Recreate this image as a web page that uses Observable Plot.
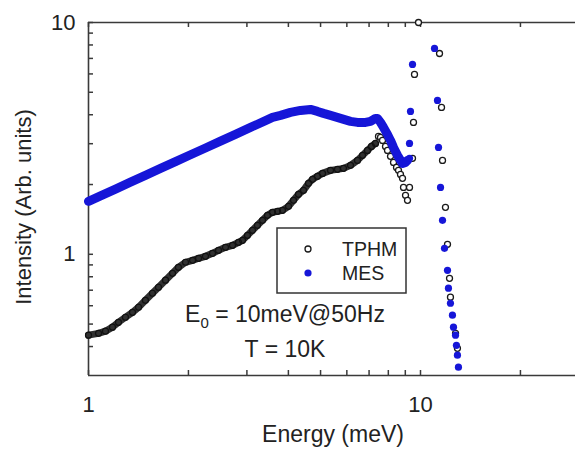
<!DOCTYPE html>
<html>
<head>
<meta charset="utf-8">
<script src="https://cdn.jsdelivr.net/npm/d3@7"></script>
<script src="https://cdn.jsdelivr.net/npm/@observablehq/plot@0.6"></script>
<style>
  html, body { margin: 0; padding: 0; background: #fff; }
  #chart svg { display: block; }
</style>
</head>
<body>
<div id="chart"></div>
<script>
// ---- Data (energy in meV, intensity in arbitrary units) ----
// TPHM: dense band of open circles
const tphmBandE = [1.000,1.072,1.125,1.181,1.231,1.292,1.357,1.415,1.484,1.558,1.625,1.706,1.791,1.866,1.960,2.058,2.145,2.251,2.363,2.464,2.586,2.715,2.830,2.910,3.012,3.119,3.228,3.343,3.461,3.583,3.710,3.839,4.004,4.145,4.291,4.442,4.599,4.728,4.895,5.068,5.357,5.623,5.862,6.154,6.460,6.688,6.924,7.118,7.318];
const tphmBandI = [0.448,0.456,0.466,0.485,0.509,0.535,0.562,0.591,0.633,0.679,0.721,0.773,0.828,0.879,0.924,0.942,0.961,0.980,1.010,1.040,1.072,1.093,1.126,1.149,1.207,1.269,1.334,1.402,1.473,1.517,1.532,1.547,1.610,1.709,1.814,1.887,2.023,2.105,2.169,2.234,2.302,2.325,2.348,2.419,2.542,2.672,2.807,2.921,3.009];
// TPHM: separate circles (peak, drop and elastic line)
const tphmDotE = [7.472,7.577,7.683,7.845,7.955,8.122,8.293,8.467,8.585,8.705,8.827,8.888,9.013,9.138,9.266,9.461,9.526,9.592,9.862,11.41,11.57,11.65,11.89,12.06,12.23,12.31,12.75,12.92];
const tphmDotI = [3.226,3.194,3.100,2.921,2.807,2.646,2.492,2.371,2.302,2.212,2.126,1.944,1.796,1.709,1.944,2.594,3.707,5.970,10.0,7.350,4.301,2.542,1.594,1.104,0.788,0.653,0.456,0.393];

// MES: dense band of filled dots
const mesBandE = [1.000,1.087,1.206,1.338,1.484,1.648,1.828,2.029,2.251,2.498,2.771,3.076,3.413,3.583,3.788,4.059,4.350,4.663,4.895,5.104,5.357,5.741,6.154,6.460,6.830,7.069,7.318,7.420,7.577,7.738,7.955,8.122,8.293,8.525,8.705,8.827,9.013,9.138];
const mesBandI = [1.692,1.787,1.912,2.048,2.191,2.346,2.509,2.688,2.875,3.079,3.294,3.527,3.773,3.895,3.973,4.094,4.176,4.217,4.135,4.054,3.973,3.857,3.744,3.707,3.707,3.744,3.857,3.857,3.707,3.527,3.290,3.100,2.892,2.672,2.542,2.467,2.492,2.542];
// MES: separate dots (elastic line)
const mesDotE = [9.266,9.266,9.330,9.461,11.02,11.25,11.33,11.49,11.65,11.81,12.06,12.14,12.31,12.48,12.57,12.75,12.83,12.92,13.01];
const mesDotI = [2.594,3.009,4.135,6.592,7.727,4.611,2.892,1.944,1.402,1.061,0.853,0.714,0.615,0.546,0.485,0.448,0.405,0.367,0.326];

// Axes
const xDomain = [1, 29.3];
const yDomain = [0.3, 10];
const xMajorTicks = [1, 10];
const xMinorTicks = [2, 3, 4, 5, 6, 7, 8, 9, 20];
const yMajorTicks = [1, 10];
const yMinorTicks = [0.4, 0.5, 0.6, 0.7, 0.8, 0.9, 2, 3, 4, 5, 6, 7, 8, 9];

// Texts
const xLabel = "Energy (meV)";
const yLabel = "Intensity (Arb. units)";
const seriesNames = ["TPHM", "MES"];
const annotation1 = ["E", "0", " = 10meV@50Hz"];
const annotation2 = "T = 10K";

const blue = "#1616d8";
const ink = "#1a1a1a";
const axisColor = "#3a3a3a";
const font = "'Liberation Sans', Arial, Helvetica, sans-serif";

const rows = (E, I) => E.map((e, i) => ({e, v: I[i]}));
const tphmBand = rows(tphmBandE, tphmBandI);
const tphmDots = rows(tphmDotE, tphmDotI);
const mesBand = rows(mesBandE, mesBandI);
const mesDots = rows(mesDotE, mesDotI);

const W = 575, H = 459, mL = 88, mT = 22, mR = 0, mB = 84;
const innerW = W - mL - mR, innerH = H - mT - mB;
const tk = 5; // inward tick length
const allX = xMinorTicks.concat(xMajorTicks);
const allY = yMinorTicks.concat(yMajorTicks);

const chart = Plot.plot({
  width: W,
  height: H,
  marginLeft: mL,
  marginTop: mT,
  marginRight: mR,
  marginBottom: mB,
  style: {fontFamily: font, background: "#fff", overflow: "visible"},
  x: {type: "log", domain: xDomain, label: null, axis: null},
  y: {type: "log", domain: yDomain, label: null, axis: null},
  marks: [
    // frame lines (top, bottom, left)
    Plot.ruleY(yDomain, {stroke: axisColor, strokeWidth: 1.6}),
    Plot.ruleX([xDomain[0]], {stroke: axisColor, strokeWidth: 1.6}),
    // inward ticks
    Plot.tickX(allX, {x: d => d, insetTop: innerH - tk, stroke: axisColor, strokeWidth: 1.5}),
    Plot.tickX(allX, {x: d => d, insetBottom: innerH - tk, stroke: axisColor, strokeWidth: 1.5}),
    Plot.tickY(allY, {y: d => d, insetRight: innerW - tk, stroke: axisColor, strokeWidth: 1.5}),
    // tick labels
    Plot.axisX(xMajorTicks, {anchor: "bottom", tickSize: 0, tickPadding: 21, tickFormat: d => String(d), fontSize: 22, fill: "#222", label: null}),
    Plot.axisY(yMajorTicks, {anchor: "left", tickSize: 0, tickPadding: 13, tickFormat: d => String(d), fontSize: 22, fill: "#222", label: null}),
    // TPHM
    Plot.line(tphmBand, {x: "e", y: "v", stroke: "#303030", strokeWidth: 7, curve: "linear"}),
    Plot.dot(tphmBand, {x: "e", y: "v", r: 3, stroke: "#111", strokeWidth: 1.2, fill: "none"}),
    Plot.dot(tphmDots, {x: "e", y: "v", r: 3, stroke: ink, strokeWidth: 1.3, fill: "#fff"}),
    // MES
    Plot.line(mesBand, {x: "e", y: "v", stroke: blue, strokeWidth: 9, curve: "linear"}),
    Plot.dot(mesBand, {x: "e", y: "v", r: 3.6, fill: blue}),
    Plot.dot(mesDots, {x: "e", y: "v", r: 3.6, fill: blue})
  ]
});

const svg = d3.select(chart);

// axis titles
svg.append("text")
  .attr("x", 333).attr("y", 442)
  .attr("text-anchor", "middle")
  .attr("font-family", font).attr("font-size", 23).attr("fill", "#222")
  .text(xLabel);

svg.append("text")
  .attr("transform", "translate(31,207) rotate(-90)")
  .attr("text-anchor", "middle")
  .attr("font-family", font).attr("font-size", 22).attr("fill", "#222")
  .text(yLabel);

// legend box
const lg = svg.append("g");
lg.append("rect")
  .attr("x", 277).attr("y", 228).attr("width", 129).attr("height", 65)
  .attr("fill", "#fff").attr("stroke", "#333").attr("stroke-width", 1.5);
lg.append("circle").attr("cx", 308).attr("cy", 249).attr("r", 3)
  .attr("fill", "#fff").attr("stroke", ink).attr("stroke-width", 1.3);
lg.append("circle").attr("cx", 308).attr("cy", 273).attr("r", 3.6)
  .attr("fill", blue);
lg.append("text").attr("x", 342).attr("y", 256)
  .attr("text-anchor", "start")
  .attr("font-family", font).attr("font-size", 19.5).attr("fill", "#222")
  .text(seriesNames[0]);
lg.append("text").attr("x", 342).attr("y", 280)
  .attr("text-anchor", "start")
  .attr("font-family", font).attr("font-size", 19.5).attr("fill", "#222")
  .text(seriesNames[1]);

// annotations
const a1 = svg.append("text")
  .attr("x", 285).attr("y", 322)
  .attr("text-anchor", "middle")
  .attr("font-family", font).attr("font-size", 23).attr("fill", "#222");
a1.append("tspan").text(annotation1[0]);
a1.append("tspan").attr("font-size", 15).attr("dy", 6).text(annotation1[1]);
a1.append("tspan").attr("dy", -6).text(annotation1[2]);

svg.append("text")
  .attr("x", 285).attr("y", 357)
  .attr("text-anchor", "middle")
  .attr("font-family", font).attr("font-size", 23).attr("fill", "#222")
  .text(annotation2);

document.getElementById("chart").appendChild(chart);
</script>
</body>
</html>
